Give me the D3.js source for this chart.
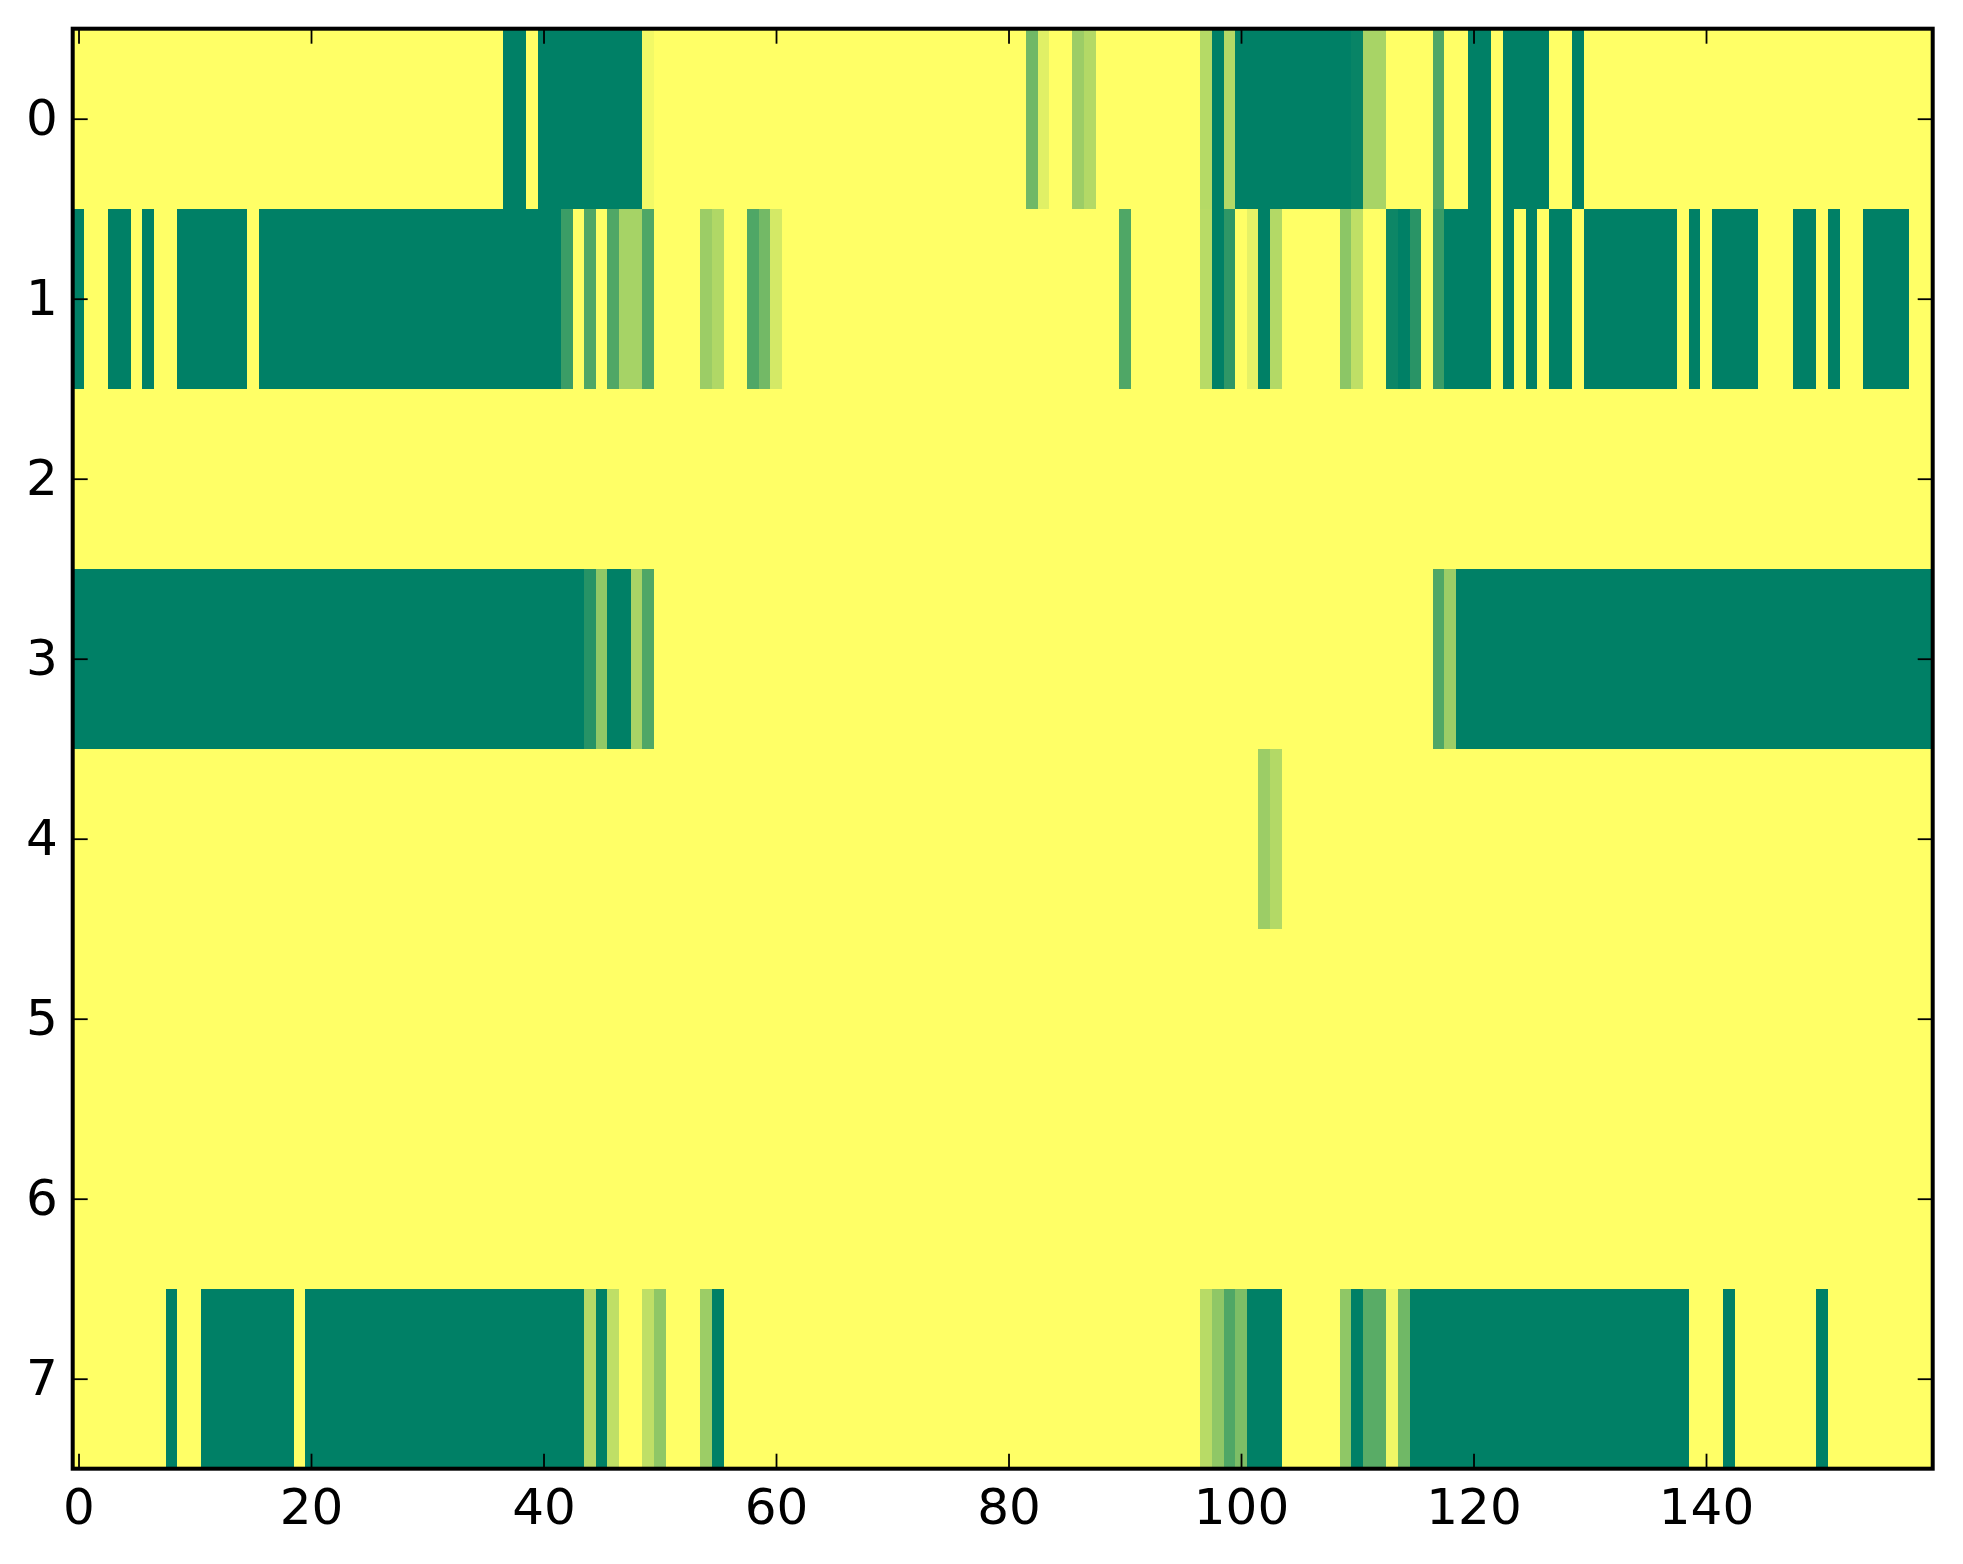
<!DOCTYPE html>
<html>
<head>
<meta charset="utf-8">
<script src="https://d3js.org/d3.v7.min.js"></script>
<style>
  body { margin: 0; background: #ffffff; }
  .axisText { font-family: "DejaVu Sans", sans-serif; font-size: 50px; fill: #000000; }
</style>
</head>
<body>
<div id="heatmap"></div>
<script>
// Row labels (y) and tick labels (x)
var rowLabels = [0, 1, 2, 3, 4, 5, 6, 7];
var xTickValues = [0, 20, 40, 60, 80, 100, 120, 140];

// Cell values, one array per row, 160 columns each (0 = yellow, 1 = green)
var row0 = [
  0, 0, 0, 0, 0, 0, 0, 0, 0, 0, 0, 0, 0, 0, 0, 0, 0, 0, 0, 0,
  0, 0, 0, 0, 0, 0, 0, 0, 0, 0, 0, 0, 0, 0, 0, 0, 0, 1, 1, 0,
  1, 1, 1, 1, 1, 1, 1, 1, 1, 0.05, 0, 0, 0, 0, 0, 0, 0, 0, 0, 0,
  0, 0, 0, 0, 0, 0, 0, 0, 0, 0, 0, 0, 0, 0, 0, 0, 0, 0, 0, 0,
  0, 0, 0.56, 0.12, 0, 0, 0.39, 0.3, 0, 0, 0, 0, 0, 0, 0, 0, 0, 0.29, 1, 0.3,
  1, 1, 1, 1, 1, 1, 1, 1, 1, 1, 0.97, 0.34, 0.34, 0, 0, 0, 0, 0.69, 0, 0,
  1, 1, 0, 1, 1, 1, 1, 0, 0, 1, 0, 0, 0, 0, 0, 0, 0, 0, 0, 0,
  0, 0, 0, 0, 0, 0, 0, 0, 0, 0, 0, 0, 0, 0, 0, 0, 0, 0, 0, 0
];
var row1 = [
  1, 0, 0, 1, 1, 0, 1, 0, 0, 1, 1, 1, 1, 1, 1, 0, 1, 1, 1, 1,
  1, 1, 1, 1, 1, 1, 1, 1, 1, 1, 1, 1, 1, 1, 1, 1, 1, 1, 1, 1,
  1, 1, 0.77, 0, 0.69, 0, 0.69, 0.35, 0.35, 0.69, 0, 0, 0, 0, 0.39, 0.31, 0, 0, 0.69, 0.55,
  0.17, 0, 0, 0, 0, 0, 0, 0, 0, 0, 0, 0, 0, 0, 0, 0, 0, 0, 0, 0,
  0, 0, 0, 0, 0, 0, 0, 0, 0, 0, 0.69, 0, 0, 0, 0, 0, 0, 0.28, 1, 0.82,
  0, 0.1, 1, 0.3, 0, 0, 0, 0, 0, 0.45, 0.25, 0, 0, 0.95, 1, 0.84, 0, 0.77, 1, 1,
  1, 1, 0, 1, 0, 1, 0, 1, 1, 0, 1, 1, 1, 1, 1, 1, 1, 1, 0, 1,
  0, 1, 1, 1, 1, 0, 0, 0, 1, 1, 0, 1, 0, 0, 1, 1, 1, 1, 0, 0
];
var row2 = [
  0, 0, 0, 0, 0, 0, 0, 0, 0, 0, 0, 0, 0, 0, 0, 0, 0, 0, 0, 0,
  0, 0, 0, 0, 0, 0, 0, 0, 0, 0, 0, 0, 0, 0, 0, 0, 0, 0, 0, 0,
  0, 0, 0, 0, 0, 0, 0, 0, 0, 0, 0, 0, 0, 0, 0, 0, 0, 0, 0, 0,
  0, 0, 0, 0, 0, 0, 0, 0, 0, 0, 0, 0, 0, 0, 0, 0, 0, 0, 0, 0,
  0, 0, 0, 0, 0, 0, 0, 0, 0, 0, 0, 0, 0, 0, 0, 0, 0, 0, 0, 0,
  0, 0, 0, 0, 0, 0, 0, 0, 0, 0, 0, 0, 0, 0, 0, 0, 0, 0, 0, 0,
  0, 0, 0, 0, 0, 0, 0, 0, 0, 0, 0, 0, 0, 0, 0, 0, 0, 0, 0, 0,
  0, 0, 0, 0, 0, 0, 0, 0, 0, 0, 0, 0, 0, 0, 0, 0, 0, 0, 0, 0
];
var row3 = [
  1, 1, 1, 1, 1, 1, 1, 1, 1, 1, 1, 1, 1, 1, 1, 1, 1, 1, 1, 1,
  1, 1, 1, 1, 1, 1, 1, 1, 1, 1, 1, 1, 1, 1, 1, 1, 1, 1, 1, 1,
  1, 1, 1, 1, 0.85, 0.43, 1, 1, 0.34, 0.69, 0, 0, 0, 0, 0, 0, 0, 0, 0, 0,
  0, 0, 0, 0, 0, 0, 0, 0, 0, 0, 0, 0, 0, 0, 0, 0, 0, 0, 0, 0,
  0, 0, 0, 0, 0, 0, 0, 0, 0, 0, 0, 0, 0, 0, 0, 0, 0, 0, 0, 0,
  0, 0, 0, 0, 0, 0, 0, 0, 0, 0, 0, 0, 0, 0, 0, 0, 0, 0.69, 0.39, 1,
  1, 1, 1, 1, 1, 1, 1, 1, 1, 1, 1, 1, 1, 1, 1, 1, 1, 1, 1, 1,
  1, 1, 1, 1, 1, 1, 1, 1, 1, 1, 1, 1, 1, 1, 1, 1, 1, 1, 1, 1
];
var row4 = [
  0, 0, 0, 0, 0, 0, 0, 0, 0, 0, 0, 0, 0, 0, 0, 0, 0, 0, 0, 0,
  0, 0, 0, 0, 0, 0, 0, 0, 0, 0, 0, 0, 0, 0, 0, 0, 0, 0, 0, 0,
  0, 0, 0, 0, 0, 0, 0, 0, 0, 0, 0, 0, 0, 0, 0, 0, 0, 0, 0, 0,
  0, 0, 0, 0, 0, 0, 0, 0, 0, 0, 0, 0, 0, 0, 0, 0, 0, 0, 0, 0,
  0, 0, 0, 0, 0, 0, 0, 0, 0, 0, 0, 0, 0, 0, 0, 0, 0, 0, 0, 0,
  0, 0, 0.39, 0.3, 0, 0, 0, 0, 0, 0, 0, 0, 0, 0, 0, 0, 0, 0, 0, 0,
  0, 0, 0, 0, 0, 0, 0, 0, 0, 0, 0, 0, 0, 0, 0, 0, 0, 0, 0, 0,
  0, 0, 0, 0, 0, 0, 0, 0, 0, 0, 0, 0, 0, 0, 0, 0, 0, 0, 0, 0
];
var row5 = [
  0, 0, 0, 0, 0, 0, 0, 0, 0, 0, 0, 0, 0, 0, 0, 0, 0, 0, 0, 0,
  0, 0, 0, 0, 0, 0, 0, 0, 0, 0, 0, 0, 0, 0, 0, 0, 0, 0, 0, 0,
  0, 0, 0, 0, 0, 0, 0, 0, 0, 0, 0, 0, 0, 0, 0, 0, 0, 0, 0, 0,
  0, 0, 0, 0, 0, 0, 0, 0, 0, 0, 0, 0, 0, 0, 0, 0, 0, 0, 0, 0,
  0, 0, 0, 0, 0, 0, 0, 0, 0, 0, 0, 0, 0, 0, 0, 0, 0, 0, 0, 0,
  0, 0, 0, 0, 0, 0, 0, 0, 0, 0, 0, 0, 0, 0, 0, 0, 0, 0, 0, 0,
  0, 0, 0, 0, 0, 0, 0, 0, 0, 0, 0, 0, 0, 0, 0, 0, 0, 0, 0, 0,
  0, 0, 0, 0, 0, 0, 0, 0, 0, 0, 0, 0, 0, 0, 0, 0, 0, 0, 0, 0
];
var row6 = [
  0, 0, 0, 0, 0, 0, 0, 0, 0, 0, 0, 0, 0, 0, 0, 0, 0, 0, 0, 0,
  0, 0, 0, 0, 0, 0, 0, 0, 0, 0, 0, 0, 0, 0, 0, 0, 0, 0, 0, 0,
  0, 0, 0, 0, 0, 0, 0, 0, 0, 0, 0, 0, 0, 0, 0, 0, 0, 0, 0, 0,
  0, 0, 0, 0, 0, 0, 0, 0, 0, 0, 0, 0, 0, 0, 0, 0, 0, 0, 0, 0,
  0, 0, 0, 0, 0, 0, 0, 0, 0, 0, 0, 0, 0, 0, 0, 0, 0, 0, 0, 0,
  0, 0, 0, 0, 0, 0, 0, 0, 0, 0, 0, 0, 0, 0, 0, 0, 0, 0, 0, 0,
  0, 0, 0, 0, 0, 0, 0, 0, 0, 0, 0, 0, 0, 0, 0, 0, 0, 0, 0, 0,
  0, 0, 0, 0, 0, 0, 0, 0, 0, 0, 0, 0, 0, 0, 0, 0, 0, 0, 0, 0
];
var row7 = [
  0, 0, 0, 0, 0, 0, 0, 0, 1, 0, 0, 1, 1, 1, 1, 1, 1, 1, 1, 0,
  1, 1, 1, 1, 1, 1, 1, 1, 1, 1, 1, 1, 1, 1, 1, 1, 1, 1, 1, 1,
  1, 1, 1, 1, 0.29, 1, 0.25, 0, 0, 0.25, 0.44, 0, 0, 0, 0.39, 1, 0, 0, 0, 0,
  0, 0, 0, 0, 0, 0, 0, 0, 0, 0, 0, 0, 0, 0, 0, 0, 0, 0, 0, 0,
  0, 0, 0, 0, 0, 0, 0, 0, 0, 0, 0, 0, 0, 0, 0, 0, 0, 0.28, 0.44, 0.69,
  0.51, 1, 1, 1, 0, 0, 0, 0, 0, 0.44, 1, 0.65, 0.65, 0.06, 0.56, 1, 1, 1, 1, 1,
  1, 1, 1, 1, 1, 1, 1, 1, 1, 1, 1, 1, 1, 1, 1, 1, 1, 1, 1, 0,
  0, 0, 1, 0, 0, 0, 0, 0, 0, 0, 1, 0, 0, 0, 0, 0, 0, 0, 0, 0
];

var rows = [row0, row1, row2, row3, row4, row5, row6, row7];

// Store width and height parameters
var svgWidth = 1963;
var svgHeight = 1564;

var margin = {
  top: 28.7,
  right: 30.3,
  bottom: 95.3,
  left: 72.7
};

var width = svgWidth - margin.left - margin.right;
var height = svgHeight - margin.top - margin.bottom;

var svg = d3.select("#heatmap")
  .append("svg")
  .attr("width", svgWidth)
  .attr("height", svgHeight);

var chartGroup = svg.append("g")
  .attr("transform", `translate(${margin.left}, ${margin.top})`);

// Flatten rows into cells
// ==============================
var cells = [];
rows.forEach(function (row, r) {
  row.forEach(function (v, c) {
    cells.push({ row: r, col: c, value: v });
  });
});

// Scales
// ==============================
var nCols = row0.length;

var xScale = d3.scaleLinear()
  .domain([-0.5, nCols - 0.5])
  .range([0, width]);

var yScale = d3.scaleLinear()
  .domain([-0.5, rowLabels.length - 0.5])
  .range([0, height]);

// summer_r colormap: linear in RGB from yellow to green
var color = d3.scaleLinear()
  .domain([0, 1])
  .range(["#ffff66", "#008066"])
  .interpolate(d3.interpolateRgb);

// Cells
// ==============================
chartGroup.append("g")
  .selectAll("rect")
  .data(cells)
  .enter()
  .append("rect")
  .attr("x", d => xScale(d.col - 0.5))
  .attr("y", d => yScale(d.row - 0.5))
  .attr("width", d => xScale(d.col + 0.5) - xScale(d.col - 0.5) + 0.4)
  .attr("height", d => yScale(d.row + 0.5) - yScale(d.row - 0.5) + 0.4)
  .attr("fill", d => color(d.value))
  .attr("shape-rendering", "crispEdges");

// Axes (ticks point inward on all four sides)
// ==============================
var bottomAxis = d3.axisBottom(xScale)
  .tickValues(xTickValues)
  .tickSize(-15)
  .tickSizeOuter(0)
  .tickPadding(20)
  .tickFormat(d3.format("d"));

var topAxis = d3.axisTop(xScale)
  .tickValues(xTickValues)
  .tickSize(-15)
  .tickSizeOuter(0)
  .tickFormat("");

var leftAxis = d3.axisLeft(yScale)
  .tickValues(rowLabels)
  .tickSize(-15)
  .tickSizeOuter(0)
  .tickPadding(15)
  .tickFormat(d3.format("d"));

var rightAxis = d3.axisRight(yScale)
  .tickValues(rowLabels)
  .tickSize(-15)
  .tickSizeOuter(0)
  .tickFormat("");

var axes = [
  chartGroup.append("g").attr("transform", `translate(0, ${height})`).call(bottomAxis),
  chartGroup.append("g").call(topAxis),
  chartGroup.append("g").call(leftAxis),
  chartGroup.append("g").attr("transform", `translate(${width}, 0)`).call(rightAxis)
];

axes.forEach(function (g) {
  g.select(".domain").remove();
  g.selectAll(".tick line").attr("stroke", "#000").attr("stroke-width", 1.8);
  g.selectAll("text")
    .attr("class", "axisText")
    .attr("font-family", null)
    .attr("font-size", null);
});

// Frame (spines)
chartGroup.append("rect")
  .attr("x", 0)
  .attr("y", 0)
  .attr("width", width)
  .attr("height", height)
  .attr("fill", "none")
  .attr("stroke", "#000")
  .attr("stroke-width", 4);
</script>
</body>
</html>
